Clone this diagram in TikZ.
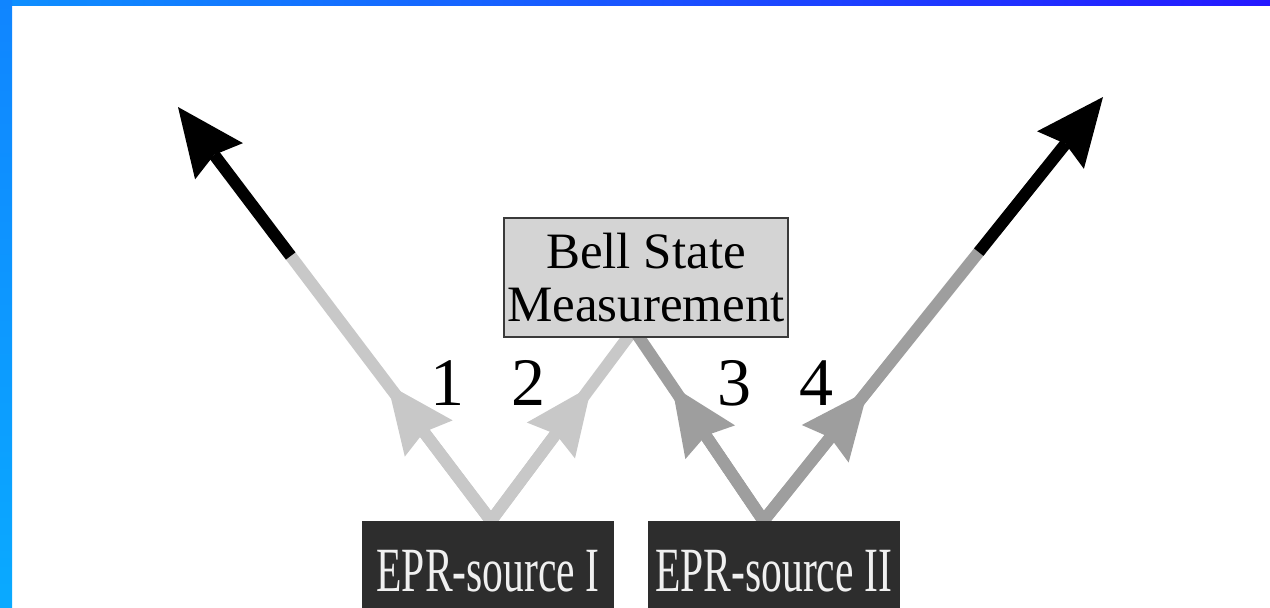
\documentclass[tikz,border=0pt]{standalone}
\usepackage{fontspec}
\setmainfont{Liberation Serif}
\usetikzlibrary{arrows.meta,calc}
\pgfdeclarelayer{bg}
\pgfsetlayers{bg,main}
\definecolor{lightray}{HTML}{C8C8C8}
\definecolor{midray}{HTML}{9E9E9E}
\definecolor{srcfill}{HTML}{2D2D2D}
\definecolor{bsmfill}{HTML}{D4D4D4}
\definecolor{bsmdraw}{HTML}{3A3A3A}
\definecolor{bordA}{HTML}{0E90FF}
\definecolor{bordB}{HTML}{2418FF}
\definecolor{bordC}{HTML}{1085FF}
\definecolor{bordD}{HTML}{0AAAFF}
\begin{document}
\begin{tikzpicture}[x=1pt,y=-1pt,
  ray/.style={line width=12pt},
  head/.style={-{Stealth[length=68pt,width=60pt,inset=8pt,line width=0pt]}},
  srcbox/.style={fill=srcfill, draw=none, minimum width=252pt, minimum height=100pt,
    inner sep=0pt, text=white!94!black, font=\fontsize{63}{63}\selectfont},
  bsmbox/.style={fill=bsmfill, draw=bsmdraw, line width=2pt, minimum width=284pt,
    minimum height=119pt, inner sep=0pt, align=center, font=\fontsize{51}{53}\selectfont},
  digit/.style={anchor=base, inner sep=0pt, font=\fontsize{68}{68}\selectfont}
]
\useasboundingbox (0,0) rectangle (1270,608);

\node[srcbox] (src1) at (488,571) {\scalebox{0.66}[1]{EPR-source I}};
\node[srcbox] (src2) at (773.5,571) {\scalebox{0.66}[1]{EPR-source II}};
\node[bsmbox] (bsm) at (646,277.5) {Bell State\\Measurement};

\coordinate (s1) at ($(src1.north)+(3,0)$);
\coordinate (s2) at ($(src2.north)+(-10,0)$);
\coordinate (out1) at (178,107);
\coordinate (out2) at (1103,97);
\coordinate (in2) at ($(bsm.south)+(-6,-17)$);
\coordinate (in3) at ($(bsm.south)+(-18,-17)$);
\coordinate (k1) at ($(s1)!0.64!(out1)$);
\coordinate (k4) at ($(s2)!0.634!(out2)$);

\begin{pgfonlayer}{bg}
\fill[white] (0,0) rectangle (1270,608);
\shade[left color=bordA, right color=bordB] (0,0) rectangle (1270,5);
\shade[top color=bordC, bottom color=bordD] (0,0) rectangle (12,608);
\draw[ray, lightray] (s1) -- ($(s1)!0.645!(out1)$);
\draw[ray, lightray] (s1) -- (in2);
\draw[ray, midray] (s2) -- (in3);
\draw[ray, midray] (s2) -- ($(s2)!0.64!(out2)$);
\draw[ray, lightray, head] (s1) -- ($(s1)!0.33!(out1)$);
\draw[ray, black, head] (k1) -- (out1);
\draw[ray, lightray, head] (s1) -- ($(s1)!0.675!(in2)$);
\draw[ray, midray, head] (s2) -- ($(s2)!0.675!(in3)$);
\draw[ray, midray, head] (s2) -- ($(s2)!0.307!(out2)$);
\draw[ray, black, head] (k4) -- (out2);
\end{pgfonlayer}

\node[digit] (n1) at (447,405) {1};
\node[digit] (n2) at (528,405) {2};
\node[digit] (n3) at (734,405) {3};
\node[digit] (n4) at (816,405) {4};
\end{tikzpicture}
\end{document}
